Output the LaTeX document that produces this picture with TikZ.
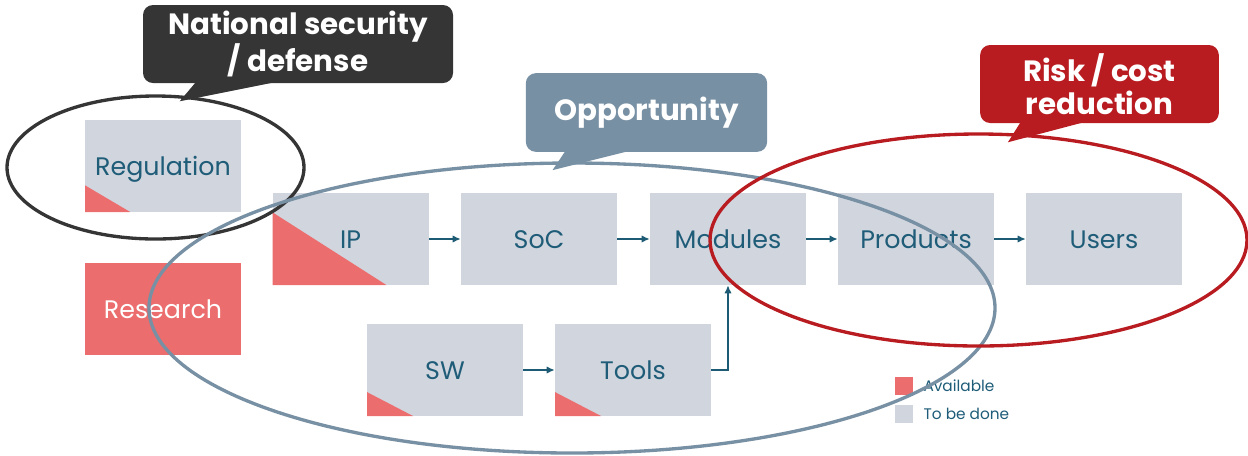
\documentclass[tikz,border=0pt]{standalone}
\usepackage{fontspec}
\setmainfont{Poppins}
\usetikzlibrary{positioning,calc,arrows.meta}

\definecolor{boxgrey}{RGB}{209,213,222}
\definecolor{availred}{RGB}{236,109,109}
\definecolor{textblue}{RGB}{30,92,120}
\definecolor{arrowblue}{RGB}{29,90,115}
\definecolor{darkcall}{RGB}{53,53,53}
\definecolor{oppgrey}{RGB}{120,144,164}
\definecolor{riskred}{RGB}{184,28,33}

\tikzset{
  stage/.style={fill=boxgrey, minimum width=117pt, minimum height=69pt, inner sep=0pt,
    text height=14.5pt, text depth=0pt, text=textblue, font=\fontsize{19}{22}\selectfont},
  avail/.style 2 args={path picture={
    \fill[availred] (path picture bounding box.south west)
      -- ($(path picture bounding box.south west)!#1!(path picture bounding box.north west)$)
      -- ($(path picture bounding box.south west)!#2!(path picture bounding box.south east)$) -- cycle;}},
  flow/.style={draw=arrowblue, line width=1.1pt, -{Latex[length=6pt,width=5.5pt]}},
  callout/.style={rounded corners=7.5pt, minimum height=58.5pt, inner sep=0pt,
    text=white, align=center, font=\bfseries\fontsize{22}{25}\selectfont},
  legsq/.style={minimum width=13.5pt, minimum height=13.5pt, inner sep=0pt},
  legtxt/.style={inner sep=0pt, text=textblue, font=\fontsize{11.5}{13}\selectfont}
}

\begin{document}
\begin{tikzpicture}[x=0.75pt,y=0.75pt,yscale=-1,xscale=1]
\useasboundingbox (0,0) rectangle (1248,455);

% Stage boxes
\node[stage, avail={0.29}{0.29}] (reg) at (163,166) {Regulation};
\node[stage, fill=availred, text=white] (res) at (163,309) {Research};
\node[stage, avail={0.79}{0.73}] (ip) at (350.5,239) {IP};
\node[stage] (soc) at (539,239) {SoC};
\node[stage] (mod) at (728,239) {Modules};
\node[stage] (prod) at (916,239) {Products};
\node[stage] (users) at (1104,239) {Users};
\node[stage, avail={0.26}{0.295}] (sw) at (445,370) {SW};
\node[stage, avail={0.26}{0.295}] (tools) at (633,370) {Tools};

%Straight Lines
\draw[flow] (ip) -- (soc);
\draw[flow] (soc) -- (mod);
\draw[flow] (mod) -- (prod);
\draw[flow] (prod) -- (users);
\draw[flow] (sw) -- (tools);
\draw[flow] (tools.east) -| (mod.south);

% Legend
\node[legsq, fill=availred] (legav) at (904,385.5) {};
\node[legtxt, right=7.5pt of legav] {Available};
\node[legsq, fill=boxgrey] (legtodo) at (904,414) {};
\node[legtxt, right=7.5pt of legtodo] {To be done};

%Shape: Ellipse
\draw[darkcall, line width=2.5pt] (155.5,167.5) ellipse [x radius=148.5, y radius=71.5];
\draw[oppgrey, line width=2.5pt] (572,308) ellipse [x radius=423, y radius=145];
\draw[riskred, line width=2.5pt] (978.5,240) ellipse [x radius=268.5, y radius=106];

% Callouts
\node[callout, fill=darkcall, minimum width=232.5pt] (natsec) at (298,44) {National security\\/ defense};
\fill[darkcall] ($(natsec.south west)+(53,-1)$) -- ($(natsec.south west)+(37,18)$) -- ($(natsec.south west)+(132,-1)$) -- cycle;
\node[callout, fill=oppgrey, minimum width=181pt, minimum height=59pt] (oppo) at (646.5,112.5) {Opportunity};
\fill[oppgrey] ($(oppo.south west)+(39.7,-1)$) -- ($(oppo.south west)+(27,18)$) -- ($(oppo.south west)+(103,-1)$) -- cycle;
\node[callout, fill=riskred, minimum width=179pt] (risk) at (1099.5,84) {Risk / cost\\reduction};
\fill[riskred] ($(risk.south west)+(40.6,-1)$) -- ($(risk.south west)+(28,19)$) -- ($(risk.south west)+(103.8,-1)$) -- cycle;

\end{tikzpicture}
\end{document}
